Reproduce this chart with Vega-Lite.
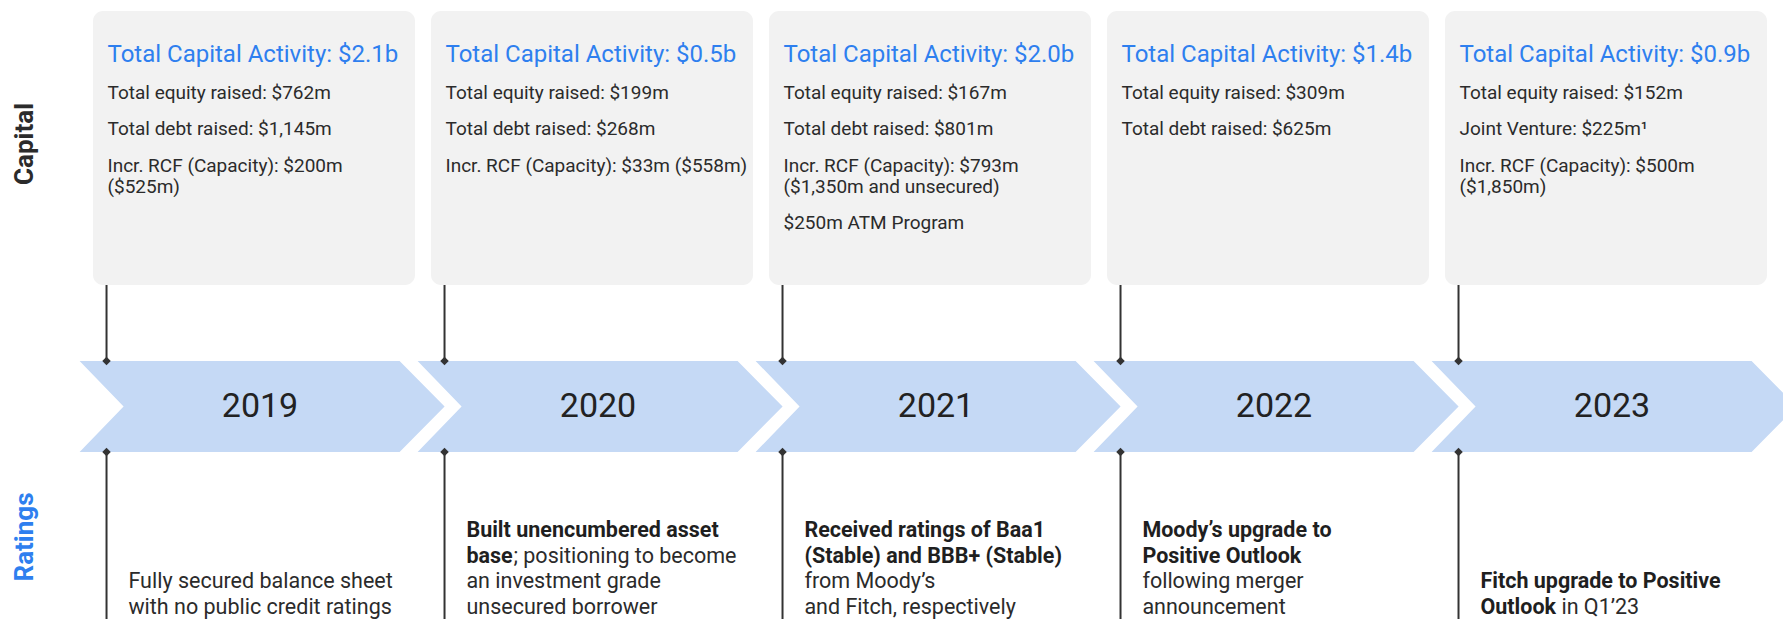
{
  "$schema": "https://vega.github.io/schema/vega-lite/v6.json",
  "width": 1783,
  "height": 619,
  "padding": 0,
  "autosize": {"type": "none"},
  "background": "#ffffff",
  "config": {"view": {"stroke": null}, "font": "Roboto", "text": {"font": "Roboto"}},
  "datasets": {
    "years": [{"year": "2019"}, {"year": "2020"}, {"year": "2021"}, {"year": "2022"}, {"year": "2023"}],
    "summary": [
      {"year": "2019", "headline": "Total Capital Activity: $2.1b"},
      {"year": "2020", "headline": "Total Capital Activity: $0.5b"},
      {"year": "2021", "headline": "Total Capital Activity: $2.0b"},
      {"year": "2022", "headline": "Total Capital Activity: $1.4b"},
      {"year": "2023", "headline": "Total Capital Activity: $0.9b"}
    ],
    "capital": [
      {"year": "2019", "order": 1, "text": "Total equity raised: $762m"},
      {"year": "2019", "order": 2, "text": "Total debt raised: $1,145m"},
      {"year": "2019", "order": 3, "text": ["Incr. RCF (Capacity): $200m", "($525m)"]},
      {"year": "2020", "order": 1, "text": "Total equity raised: $199m"},
      {"year": "2020", "order": 2, "text": "Total debt raised: $268m"},
      {"year": "2020", "order": 3, "text": "Incr. RCF (Capacity): $33m ($558m)"},
      {"year": "2021", "order": 1, "text": "Total equity raised: $167m"},
      {"year": "2021", "order": 2, "text": "Total debt raised: $801m"},
      {"year": "2021", "order": 3, "text": ["Incr. RCF (Capacity): $793m", "($1,350m and unsecured)"]},
      {"year": "2021", "order": 4, "text": "$250m ATM Program"},
      {"year": "2022", "order": 1, "text": "Total equity raised: $309m"},
      {"year": "2022", "order": 2, "text": "Total debt raised: $625m"},
      {"year": "2023", "order": 1, "text": "Total equity raised: $152m"},
      {"year": "2023", "order": 2, "text": "Joint Venture: $225m¹"},
      {"year": "2023", "order": 3, "text": ["Incr. RCF (Capacity): $500m", "($1,850m)"]}
    ],
    "ratings": [
      {"year": "2019", "line": 3, "part": "detail", "text": "Fully secured balance sheet"},
      {"year": "2019", "line": 4, "part": "detail", "text": "with no public credit ratings"},
      {"year": "2020", "line": 1, "part": "highlight", "text": "Built unencumbered asset"},
      {"year": "2020", "line": 2, "part": "highlight", "text": "base"},
      {"year": "2020", "line": 2, "part": "inline", "text": "; positioning to become"},
      {"year": "2020", "line": 3, "part": "detail", "text": "an investment grade"},
      {"year": "2020", "line": 4, "part": "detail", "text": "unsecured borrower"},
      {"year": "2021", "line": 1, "part": "highlight", "text": "Received ratings of Baa1"},
      {"year": "2021", "line": 2, "part": "highlight", "text": "(Stable) and BBB+ (Stable)"},
      {"year": "2021", "line": 3, "part": "detail", "text": "from Moody’s"},
      {"year": "2021", "line": 4, "part": "detail", "text": "and Fitch, respectively"},
      {"year": "2022", "line": 1, "part": "highlight", "text": "Moody’s upgrade to"},
      {"year": "2022", "line": 2, "part": "highlight", "text": "Positive Outlook"},
      {"year": "2022", "line": 3, "part": "detail", "text": "following merger"},
      {"year": "2022", "line": 4, "part": "detail", "text": "announcement"},
      {"year": "2023", "line": 3, "part": "highlight", "text": "Fitch upgrade to Positive"},
      {"year": "2023", "line": 4, "part": "highlight", "text": "Outlook"},
      {"year": "2023", "line": 4, "part": "inline", "text": "in Q1’23"}
    ],
    "sections": [{"section": "Capital"}, {"section": "Ratings"}]
  },
  "resolve": {"scale": {"x": "independent", "y": "independent", "color": "independent"}},
  "layer": [
    {
      "data": {"name": "summary"},
      "mark": {"type": "rect", "cornerRadius": 10, "color": "#f2f2f2"},
      "encoding": {
        "x": {"field": "year", "type": "ordinal", "scale": {"type": "band", "domain": ["2019", "2020", "2021", "2022", "2023"], "range": [93, 1767], "paddingInner": 0.0473, "paddingOuter": 0}, "axis": null},
        "y": {"datum": "Capital", "type": "nominal", "scale": {"type": "band", "domain": ["Capital"], "range": [11, 285], "paddingInner": 0, "paddingOuter": 0}, "axis": null}
      }
    },
    {
      "data": {"name": "years"},
      "mark": {"type": "point", "shape": "M-174.4,-45.5H145.6L190.6,0L145.6,45.5H-174.4L-130.4,0Z", "size": 4, "filled": true, "color": "#c5d9f5", "opacity": 1, "strokeWidth": 0},
      "encoding": {
        "x": {"field": "year", "type": "ordinal", "scale": {"type": "band", "domain": ["2019", "2020", "2021", "2022", "2023"], "range": [93, 1767], "paddingInner": 0.0473, "paddingOuter": 0}, "axis": null},
        "y": {"datum": "timeline", "type": "nominal", "scale": {"type": "band", "domain": ["timeline"], "range": [361, 452], "paddingInner": 0, "paddingOuter": 0}, "axis": null}
      }
    },
    {
      "data": {"name": "years"},
      "mark": {"type": "rule", "color": "#333333", "strokeWidth": 2},
      "encoding": {
        "x": {"field": "year", "type": "ordinal", "bandPosition": 0.042, "scale": {"type": "band", "domain": ["2019", "2020", "2021", "2022", "2023"], "range": [93, 1767], "paddingInner": 0.0473, "paddingOuter": 0}, "axis": null},
        "y": {"datum": "box bottom", "type": "nominal", "scale": {"type": "point", "domain": ["box bottom", "timeline top"], "range": [285, 361], "padding": 0}, "axis": null},
        "y2": {"datum": "timeline top"}
      }
    },
    {
      "data": {"name": "years"},
      "mark": {"type": "rule", "color": "#333333", "strokeWidth": 2},
      "encoding": {
        "x": {"field": "year", "type": "ordinal", "bandPosition": 0.042, "scale": {"type": "band", "domain": ["2019", "2020", "2021", "2022", "2023"], "range": [93, 1767], "paddingInner": 0.0473, "paddingOuter": 0}, "axis": null},
        "y": {"datum": "timeline bottom", "type": "nominal", "scale": {"type": "point", "domain": ["timeline bottom", "page bottom"], "range": [452, 619], "padding": 0}, "axis": null},
        "y2": {"datum": "page bottom"}
      }
    },
    {
      "data": {"name": "years"},
      "mark": {"type": "point", "shape": "diamond", "size": 72, "filled": true, "color": "#333333", "opacity": 1},
      "encoding": {
        "x": {"field": "year", "type": "ordinal", "bandPosition": 0.042, "scale": {"type": "band", "domain": ["2019", "2020", "2021", "2022", "2023"], "range": [93, 1767], "paddingInner": 0.0473, "paddingOuter": 0}, "axis": null},
        "y": {"datum": "timeline top", "type": "nominal", "scale": {"type": "point", "domain": ["timeline top", "timeline bottom"], "range": [361, 452], "padding": 0}, "axis": null}
      }
    },
    {
      "data": {"name": "years"},
      "mark": {"type": "point", "shape": "diamond", "size": 72, "filled": true, "color": "#333333", "opacity": 1},
      "encoding": {
        "x": {"field": "year", "type": "ordinal", "bandPosition": 0.042, "scale": {"type": "band", "domain": ["2019", "2020", "2021", "2022", "2023"], "range": [93, 1767], "paddingInner": 0.0473, "paddingOuter": 0}, "axis": null},
        "y": {"datum": "timeline bottom", "type": "nominal", "scale": {"type": "point", "domain": ["timeline top", "timeline bottom"], "range": [361, 452], "padding": 0}, "axis": null}
      }
    },
    {
      "data": {"name": "years"},
      "mark": {"type": "text", "fontSize": 34, "fontWeight": "normal", "color": "#222222", "align": "center", "baseline": "middle", "dx": 6},
      "encoding": {
        "x": {"field": "year", "type": "ordinal", "scale": {"type": "band", "domain": ["2019", "2020", "2021", "2022", "2023"], "range": [93, 1767], "paddingInner": 0.0473, "paddingOuter": 0}, "axis": null},
        "y": {"datum": "timeline", "type": "nominal", "scale": {"type": "band", "domain": ["timeline"], "range": [361, 452], "paddingInner": 0, "paddingOuter": 0}, "axis": null},
        "text": {"field": "year", "type": "nominal"}
      }
    },
    {
      "data": {"name": "summary"},
      "mark": {"type": "text", "fontSize": 24, "color": "#2e7fef", "align": "left", "baseline": "alphabetic"},
      "encoding": {
        "x": {"field": "year", "type": "ordinal", "bandPosition": 0.045, "scale": {"type": "band", "domain": ["2019", "2020", "2021", "2022", "2023"], "range": [93, 1767], "paddingInner": 0.0473, "paddingOuter": 0}, "axis": null},
        "y": {"datum": 0, "type": "ordinal", "scale": {"type": "point", "domain": [0, 1, 2, 3, 4], "range": [62, 208.4], "padding": 0}, "axis": null},
        "text": {"field": "headline", "type": "nominal"}
      }
    },
    {
      "data": {"name": "capital"},
      "transform": [{"filter": "!(datum.year === '2021' && datum.order === 4)"}],
      "mark": {"type": "text", "fontSize": 19, "color": "#2b2b2b", "align": "left", "baseline": "alphabetic", "lineHeight": 21},
      "encoding": {
        "x": {"field": "year", "type": "ordinal", "bandPosition": 0.045, "scale": {"type": "band", "domain": ["2019", "2020", "2021", "2022", "2023"], "range": [93, 1767], "paddingInner": 0.0473, "paddingOuter": 0}, "axis": null},
        "y": {"field": "order", "type": "ordinal", "scale": {"type": "point", "domain": [0, 1, 2, 3, 4], "range": [62, 208.4], "padding": 0}, "axis": null},
        "text": {"field": "text", "type": "nominal"}
      }
    },
    {
      "data": {"name": "capital"},
      "transform": [{"filter": "datum.year === '2021' && datum.order === 4"}],
      "mark": {"type": "text", "fontSize": 19, "color": "#2b2b2b", "align": "left", "baseline": "alphabetic", "dy": 21},
      "encoding": {
        "x": {"field": "year", "type": "ordinal", "bandPosition": 0.045, "scale": {"type": "band", "domain": ["2019", "2020", "2021", "2022", "2023"], "range": [93, 1767], "paddingInner": 0.0473, "paddingOuter": 0}, "axis": null},
        "y": {"field": "order", "type": "ordinal", "scale": {"type": "point", "domain": [0, 1, 2, 3, 4], "range": [62, 208.4], "padding": 0}, "axis": null},
        "text": {"field": "text", "type": "nominal"}
      }
    },
    {
      "data": {"name": "ratings"},
      "transform": [{"filter": "datum.part === 'highlight'"}],
      "mark": {"type": "text", "fontSize": 21.5, "fontWeight": "bold", "color": "#1f1f1f", "align": "left", "baseline": "alphabetic"},
      "encoding": {
        "x": {"field": "year", "type": "ordinal", "bandPosition": 0.11, "scale": {"type": "band", "domain": ["2019", "2020", "2021", "2022", "2023"], "range": [93, 1767], "paddingInner": 0.0473, "paddingOuter": 0}, "axis": null},
        "y": {"field": "line", "type": "ordinal", "scale": {"type": "point", "domain": [1, 2, 3, 4], "range": [537, 613.5], "padding": 0}, "axis": null},
        "text": {"field": "text", "type": "nominal"}
      }
    },
    {
      "data": {"name": "ratings"},
      "transform": [{"filter": "datum.part === 'detail'"}],
      "mark": {"type": "text", "fontSize": 21.5, "color": "#2b2b2b", "align": "left", "baseline": "alphabetic"},
      "encoding": {
        "x": {"field": "year", "type": "ordinal", "bandPosition": 0.11, "scale": {"type": "band", "domain": ["2019", "2020", "2021", "2022", "2023"], "range": [93, 1767], "paddingInner": 0.0473, "paddingOuter": 0}, "axis": null},
        "y": {"field": "line", "type": "ordinal", "scale": {"type": "point", "domain": [1, 2, 3, 4], "range": [537, 613.5], "padding": 0}, "axis": null},
        "text": {"field": "text", "type": "nominal"}
      }
    },
    {
      "data": {"name": "ratings"},
      "transform": [{"filter": "datum.part === 'inline' && datum.year === '2020'"}],
      "mark": {"type": "text", "fontSize": 21.5, "color": "#2b2b2b", "align": "left", "baseline": "alphabetic", "dx": 47},
      "encoding": {
        "x": {"field": "year", "type": "ordinal", "bandPosition": 0.11, "scale": {"type": "band", "domain": ["2019", "2020", "2021", "2022", "2023"], "range": [93, 1767], "paddingInner": 0.0473, "paddingOuter": 0}, "axis": null},
        "y": {"field": "line", "type": "ordinal", "scale": {"type": "point", "domain": [1, 2, 3, 4], "range": [537, 613.5], "padding": 0}, "axis": null},
        "text": {"field": "text", "type": "nominal"}
      }
    },
    {
      "data": {"name": "ratings"},
      "transform": [{"filter": "datum.part === 'inline' && datum.year === '2023'"}],
      "mark": {"type": "text", "fontSize": 21.5, "color": "#2b2b2b", "align": "left", "baseline": "alphabetic", "dx": 81},
      "encoding": {
        "x": {"field": "year", "type": "ordinal", "bandPosition": 0.11, "scale": {"type": "band", "domain": ["2019", "2020", "2021", "2022", "2023"], "range": [93, 1767], "paddingInner": 0.0473, "paddingOuter": 0}, "axis": null},
        "y": {"field": "line", "type": "ordinal", "scale": {"type": "point", "domain": [1, 2, 3, 4], "range": [537, 613.5], "padding": 0}, "axis": null},
        "text": {"field": "text", "type": "nominal"}
      }
    },
    {
      "data": {"name": "sections"},
      "mark": {"type": "text", "fontSize": 26, "fontWeight": "bold", "angle": 270, "align": "center", "baseline": "middle"},
      "encoding": {
        "x": {"field": "section", "type": "nominal", "scale": {"type": "point", "domain": ["Capital", "Ratings"], "range": [25, 25], "padding": 0}, "axis": null},
        "y": {"field": "section", "type": "nominal", "scale": {"type": "point", "domain": ["Capital", "Ratings"], "range": [144, 537], "padding": 0}, "axis": null},
        "color": {"field": "section", "type": "nominal", "scale": {"domain": ["Capital", "Ratings"], "range": ["#2b2b2b", "#2e7fef"]}, "legend": null},
        "text": {"field": "section", "type": "nominal"}
      }
    }
  ]
}
